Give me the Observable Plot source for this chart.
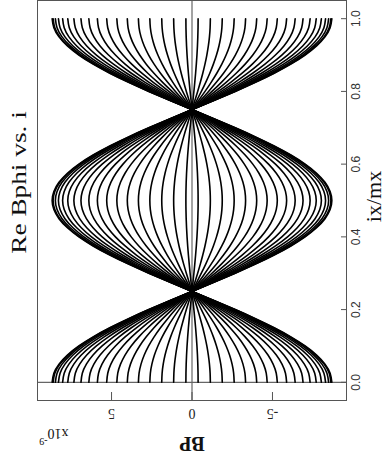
<!DOCTYPE html>
<html>
<head>
<meta charset="utf-8">
<script src="https://cdn.jsdelivr.net/npm/d3@7"></script>
<script src="https://cdn.jsdelivr.net/npm/@observablehq/plot@0.6"></script>
<style>
  html, body { margin: 0; padding: 0; background: #fff; }
</style>
</head>
<body>
<div id="chart"></div>
<script>
// Labels
const title = "Re Bphi vs. i";
const xLabel = "ix/mx";
const yLabel = "BP";
const yMultiplier = "x10";
const yExponent = "-9";

// Tick values
const ixTicks = [0.0, 0.2, 0.4, 0.6, 0.8, 1.0];
const bpTicks = [5, 0, -5];

// Sample positions along ix/mx
const ixSamples = [
  0.000, 0.025, 0.050, 0.075, 0.100, 0.125, 0.150, 0.175, 0.200, 0.225,
  0.250, 0.275, 0.300, 0.325, 0.350, 0.375, 0.400, 0.425, 0.450, 0.475,
  0.500, 0.525, 0.550, 0.575, 0.600, 0.625, 0.650, 0.675, 0.700, 0.725,
  0.750, 0.775, 0.800, 0.825, 0.850, 0.875, 0.900, 0.925, 0.950, 0.975,
  1.000
];

// Normalised field profile along ix/mx (shared by every phase)
const profile = [
   1.0000,  0.9877,  0.9511,  0.8910,  0.8090,  0.7071,  0.5878,  0.4540,  0.3090,  0.1564,
   0.0000, -0.1564, -0.3090, -0.4540, -0.5878, -0.7071, -0.8090, -0.8910, -0.9511, -0.9877,
  -1.0000, -0.9877, -0.9511, -0.8910, -0.8090, -0.7071, -0.5878, -0.4540, -0.3090, -0.1564,
   0.0000,  0.1564,  0.3090,  0.4540,  0.5878,  0.7071,  0.8090,  0.8910,  0.9511,  0.9877,
   1.0000
];

// Amplitude of Re Bphi at ix = 0 for each phase (units of 1e-9)
const amplitudes = [
   8.69,  8.63,  8.49,  8.30,  8.04,  7.72,  7.34,  6.90,  6.41,
   5.88,  5.30,  4.67,  4.02,  3.33,  2.62,  1.88,  1.14,  0.38,
  -0.38, -1.14, -1.88, -2.62, -3.33, -4.02, -4.67, -5.30, -5.88,
  -6.41, -6.90, -7.34, -7.72, -8.04, -8.30, -8.49, -8.63, -8.69
];

const rows = amplitudes.flatMap((a, k) =>
  ixSamples.map((ix, j) => ({curve: k, ix, bp: a * profile[j]}))
);

const serif = "'Liberation Serif', 'Times New Roman', serif";
const sans = "'Liberation Sans', Arial, sans-serif";
const axisGray = "#555";

const chart = Plot.plot({
  width: 390,
  height: 453,
  marginLeft: 37,
  marginRight: 44,
  marginTop: 0,
  marginBottom: 53,
  x: {domain: [9.6, -9.6], axis: null},
  y: {domain: [-0.05, 1.05], axis: null},
  style: {background: "#fff", fontFamily: serif, color: "#000"},
  marks: [
    Plot.ruleY([0], {stroke: "#666", strokeWidth: 1.2}),
    Plot.ruleX([0], {stroke: "#666", strokeWidth: 1.2}),
    Plot.line(rows, {
      x: "bp", y: "ix", z: "curve",
      stroke: "#000", strokeWidth: 1.6, curve: "natural"
    }),
    Plot.tickX(bpTicks, {x: d => d, insetTop: 392, stroke: axisGray}),
    Plot.tickY(ixTicks, {y: d => d, insetLeft: 304, stroke: axisGray}),
    Plot.frame({stroke: axisGray}),
    Plot.text(bpTicks, {
      x: d => d, frameAnchor: "bottom", dy: 8, rotate: 180, textAnchor: "middle",
      text: d => String(d), fontSize: 14, fill: "#222"
    }),
    Plot.text(ixTicks, {
      y: d => d, frameAnchor: "right", dx: 10, rotate: -90, textAnchor: "middle",
      text: d => d.toFixed(1), fontSize: 12, fontFamily: sans, fill: "#333"
    }),
    Plot.text([xLabel], {
      frameAnchor: "right", dx: 27, dy: -4, rotate: -90, textAnchor: "middle",
      text: d => d, fontSize: 22, fill: "#111"
    }),
    Plot.text([title], {
      frameAnchor: "left", dx: -18, dy: -18, rotate: -90, textAnchor: "middle",
      text: d => d, fontSize: 21, fill: "#111", className: "chart-title"
    }),
    Plot.text([yLabel], {
      frameAnchor: "bottom", dy: 36, rotate: 180, textAnchor: "middle",
      text: d => d, fontSize: 20, fontWeight: "bold", fill: "#111"
    }),
    Plot.text([yMultiplier], {
      frameAnchor: "bottom-left", dx: 31, dy: 28, rotate: 180, textAnchor: "start",
      text: d => d, fontSize: 14, fill: "#111"
    }),
    Plot.text([yExponent], {
      frameAnchor: "bottom-left", dx: 10, dy: 37, rotate: 180, textAnchor: "start",
      text: d => d, fontSize: 10, fill: "#111"
    })
  ]
});

// The title is set wide along its baseline
d3.select(chart).selectAll(".chart-title text").each(function() {
  const el = d3.select(this);
  el.attr("transform", (el.attr("transform") || "") + " scale(1.3,1)");
});

document.getElementById("chart").appendChild(chart);
</script>
</body>
</html>
